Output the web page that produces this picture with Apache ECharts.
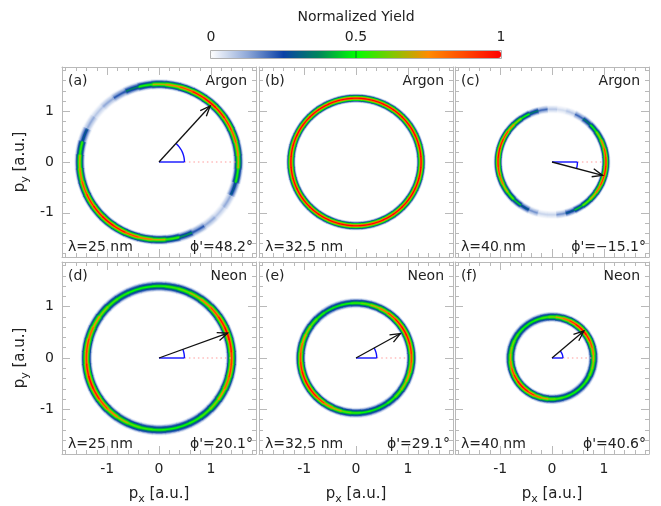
<!DOCTYPE html>
<html>
<head>
<meta charset="utf-8">
<script src="https://cdn.jsdelivr.net/npm/echarts@6/dist/echarts.min.js"></script>
<style>
  html, body { margin: 0; padding: 0; background: #fff; }
  #chart { width: 661px; height: 506px; }
</style>
</head>
<body>
<div id="chart"></div>
<script>
// angles around each ring (deg, counter-clockwise from +px)
const angles = [0, 10, 20, 30, 40, 50, 60, 70, 80, 90, 100, 110, 120, 130, 140, 150, 160, 170,
  180, 190, 200, 210, 220, 230, 240, 250, 260, 270, 280, 290, 300, 310, 320, 330, 340, 350]

// normalized yield on the ring centre line, one value per angle
const yieldA = [0.7, 0.78, 0.86, 0.92, 0.97, 1.0, 0.97, 0.88, 0.78, 0.68, 0.52, 0.36, 0.22, 0.12, 0.08, 0.12, 0.3, 0.55,
  0.72, 0.8, 0.88, 0.94, 0.98, 1.0, 0.96, 0.88, 0.8, 0.7, 0.55, 0.38, 0.22, 0.12, 0.08, 0.12, 0.3, 0.52]
const yieldB = [1, 1, 1, 1, 1, 1, 1, 1, 1, 1, 1, 1, 1, 1, 1, 1, 1, 1,
  1, 1, 1, 1, 1, 1, 1, 1, 1, 1, 1, 1, 1, 1, 1, 1, 1, 1]
const yieldC = [0.95, 0.9, 0.8, 0.65, 0.5, 0.35, 0.2, 0.08, 0.05, 0.08, 0.2, 0.35, 0.5, 0.65, 0.78, 0.9, 0.97, 1.0,
  0.97, 0.92, 0.83, 0.72, 0.6, 0.45, 0.3, 0.15, 0.06, 0.06, 0.15, 0.3, 0.45, 0.6, 0.72, 0.83, 0.92, 0.97]
const yieldD = [0.9, 0.96, 1.0, 0.96, 0.88, 0.78, 0.68, 0.6, 0.55, 0.52, 0.5, 0.5, 0.52, 0.56, 0.64, 0.74, 0.83, 0.9,
  0.9, 0.96, 1.0, 0.96, 0.88, 0.78, 0.68, 0.6, 0.55, 0.52, 0.5, 0.5, 0.52, 0.56, 0.64, 0.74, 0.83, 0.9]
const yieldE = [0.88, 0.94, 0.98, 1.0, 0.97, 0.9, 0.8, 0.7, 0.6, 0.54, 0.5, 0.48, 0.48, 0.52, 0.6, 0.68, 0.76, 0.83,
  0.88, 0.94, 0.98, 1.0, 0.97, 0.9, 0.8, 0.7, 0.6, 0.54, 0.5, 0.48, 0.48, 0.52, 0.6, 0.68, 0.76, 0.83]
const yieldF = [0.72, 0.8, 0.88, 0.95, 1.0, 0.98, 0.92, 0.82, 0.72, 0.62, 0.56, 0.52, 0.5, 0.5, 0.52, 0.56, 0.62, 0.67,
  0.72, 0.8, 0.88, 0.95, 1.0, 0.98, 0.92, 0.82, 0.72, 0.62, 0.56, 0.52, 0.5, 0.5, 0.52, 0.56, 0.62, 0.67]
const yields = [yieldA, yieldB, yieldC, yieldD, yieldE, yieldF]

// profile across the ring band: half width (fraction of ring width) and relative yield
const bandWidth = [1.0, 0.86, 0.73, 0.6, 0.48, 0.36, 0.24, 0.12]
const bandLevel = [0.05, 0.14, 0.28, 0.42, 0.52, 0.66, 0.82, 1.0]

const ringRadius = [1.53, 1.255, 1.04, 1.40, 1.07, 0.80]
const ringWidth = [0.1, 0.09, 0.085, 0.11, 0.1, 0.1]

// emission direction marker
const phiDeg = [48.2, null, -15.1, 20.1, 29.1, 40.6]
const arrowLen = [1.48, null, 1.01, 1.41, 0.98, 0.81]
const arcRadius = [0.49, null, 0.49, 0.49, 0.4, 0.21]

const tags = ['(a)', '(b)', '(c)', '(d)', '(e)', '(f)']
const gases = ['Argon', 'Argon', 'Argon', 'Neon', 'Neon', 'Neon']
const lambdas = ['λ=25 nm', 'λ=32.5 nm', 'λ=40 nm', 'λ=25 nm', 'λ=32.5 nm', 'λ=40 nm']
const phiLabels = ["ϕ'=48.2°", '', "ϕ'=−15.1°", "ϕ'=20.1°", "ϕ'=29.1°", "ϕ'=40.6°"]

const colorbarTicks = [0, 0.5, 1]
const yieldColors = ['#ffffff', '#90a9d8', '#0a40a6', '#00885a', '#00ff00', '#80c800', '#ff8a00', '#ff4800', '#ff0000']

const axisMin = -1.87
const axisMax = 1.87

const FONT = 'DejaVu Sans'
const frameColor = '#b9b9b9'
const colLeft = [62, 259, 455]
const rowTop = [67, 262]
const rowHeight = [190, 192]
const panelW = 194

const chart = echarts.init(document.getElementById('chart'))

const grids = []
const xAxes = []
const yAxes = []
const series = []
const graphics = []

function axisBase(p, show) {
  return {
    gridIndex: p,
    type: 'value',
    min: axisMin,
    max: axisMax,
    splitNumber: 4,
    axisLine: { show: true, onZero: false, lineStyle: { color: frameColor, width: 1 } },
    axisTick: { show: true, inside: true, length: 8, lineStyle: { color: frameColor, width: 1 } },
    minorTick: { show: true, splitNumber: 5, length: 4, lineStyle: { color: frameColor, width: 1 } },
    splitLine: { show: false },
    axisLabel: {
      show: show,
      color: '#222',
      fontSize: 14,
      fontFamily: FONT,
      margin: 8,
      formatter: v => (Math.abs(v - Math.round(v)) < 1e-6 ? String(Math.round(v)) : '')
    }
  }
}

const nameRich = {
  a: { fontSize: 15, fontFamily: FONT, color: '#222', lineHeight: 22, verticalAlign: 'middle' },
  b: { fontSize: 11, fontFamily: FONT, color: '#222', lineHeight: 12, verticalAlign: 'bottom' }
}

for (let p = 0; p < 6; p++) {
  const col = p % 3
  const row = Math.floor(p / 3)
  const left = colLeft[col]
  const top = rowTop[row]
  grids.push({ left: left, top: top, width: panelW, height: rowHeight[row], containLabel: false, outerBoundsMode: 'none' })

  const xb = axisBase(p, row === 1)
  xb.position = 'bottom'
  if (row === 1) {
    xb.name = '{a|p}{b|x}{a| [a.u.]}'
    xb.nameLocation = 'middle'
    xb.nameGap = 29
    xb.nameTextStyle = { rich: nameRich }
  }
  const xt = axisBase(p, false)
  xt.position = 'top'
  xAxes.push(xb, xt)

  const yl = axisBase(p, col === 0)
  yl.position = 'left'
  if (col === 0) {
    yl.name = '{a|p}{b|y}{a| [a.u.]}'
    yl.nameLocation = 'middle'
    yl.nameGap = 31
    yl.nameRotate = 90
    yl.nameTextStyle = { rich: nameRich }
  }
  const yr = axisBase(p, false)
  yr.position = 'right'
  yAxes.push(yl, yr)

  // ring cells, widest band first so narrower, brighter bands sit on top
  const data = []
  for (let k = 0; k < bandWidth.length; k++) {
    for (let i = 0; i < angles.length; i++) {
      data.push([angles[i], k, yields[p][i] * bandLevel[k]])
    }
  }
  series.push({
    type: 'custom',
    name: 'ring' + p,
    xAxisIndex: 2 * p,
    yAxisIndex: 2 * p,
    z: 2,
    silent: true,
    animation: false,
    data: data,
    renderItem: (params, api) => {
      const ang = api.value(0)
      const k = api.value(1)
      const r1 = ringRadius[p] + ringWidth[p] * bandWidth[k]
      const r0 = ringRadius[p] - ringWidth[p] * bandWidth[k]
      const a0 = ang - 5.4
      const a1 = ang + 5.4
      const pts = []
      const steps = 6
      for (let j = 0; j <= steps; j++) {
        const t = (a0 + (a1 - a0) * j / steps) * Math.PI / 180
        pts.push(api.coord([r1 * Math.cos(t), r1 * Math.sin(t)]))
      }
      for (let j = steps; j >= 0; j--) {
        const t = (a0 + (a1 - a0) * j / steps) * Math.PI / 180
        pts.push(api.coord([r0 * Math.cos(t), r0 * Math.sin(t)]))
      }
      return { type: 'polygon', shape: { points: pts }, style: { fill: api.visual('color') } }
    }
  })

  // panel texts
  const right = left + panelW
  const bottom = top + rowHeight[row]
  const txt = (x, y, s, align) => ({
    type: 'text', x: x, y: y, z: 20,
    style: { text: s, fill: '#222', font: '14px "' + FONT + '"', align: align, verticalAlign: 'middle' }
  })
  graphics.push(txt(left + 6, top + 14, tags[p], 'left'))
  graphics.push(txt(right - 9, top + 14, gases[p], 'right'))
  graphics.push(txt(left + 6, bottom - 10, lambdas[p], 'left'))
  if (phiLabels[p]) graphics.push(txt(right - 3, bottom - 10, phiLabels[p], 'right'))
}

// direction arrows
for (let p = 0; p < 6; p++) {
  if (phiDeg[p] === null) continue
  series.push({
    type: 'custom',
    name: 'arrow' + p,
    xAxisIndex: 2 * p,
    yAxisIndex: 2 * p,
    z: 5,
    silent: true,
    animation: false,
    data: [[phiDeg[p], arrowLen[p], arcRadius[p]]],
    renderItem: (params, api) => {
      const phi = api.value(0) * Math.PI / 180
      const len = api.value(1)
      const ar = api.value(2)
      const o = api.coord([0, 0])
      const tip = api.coord([len * Math.cos(phi), len * Math.sin(phi)])
      const arc = []
      for (let j = 0; j <= 24; j++) {
        const t = phi * j / 24
        arc.push(api.coord([ar * Math.cos(t), ar * Math.sin(t)]))
      }
      const dx = tip[0] - o[0]
      const dy = tip[1] - o[1]
      const d = Math.sqrt(dx * dx + dy * dy)
      const ux = dx / d
      const uy = dy / d
      const hl = 11
      const ha = 22 * Math.PI / 180
      const barb = s => {
        const c = Math.cos(s * ha)
        const sn = Math.sin(s * ha)
        const bx = ux * c - uy * sn
        const by = ux * sn + uy * c
        return [tip[0] - hl * bx, tip[1] - hl * by]
      }
      return {
        type: 'group',
        children: [
          { type: 'line', shape: { x1: api.coord([ar, 0])[0], y1: o[1], x2: api.coord([len, 0])[0], y2: o[1] },
            style: { stroke: '#ff9c9c', lineWidth: 1.2, lineDash: [1.5, 3] } },
          { type: 'line', shape: { x1: o[0], y1: o[1], x2: api.coord([ar, 0])[0], y2: o[1] },
            style: { stroke: '#1010ff', lineWidth: 1.4 } },
          { type: 'polyline', shape: { points: arc }, style: { stroke: '#1010ff', lineWidth: 1.4, fill: null } },
          { type: 'line', shape: { x1: o[0], y1: o[1], x2: tip[0], y2: tip[1] },
            style: { stroke: '#111', lineWidth: 1.3 } },
          { type: 'polyline', shape: { points: [barb(1), tip, barb(-1)] },
            style: { stroke: '#111', lineWidth: 1.3, fill: null } }
        ]
      }
    }
  })
}

// colour bar texts
const cbLeft = 211
const cbWidth = 290
graphics.push({
  type: 'text', x: cbLeft + cbWidth / 2, y: 17,
  style: { text: 'Normalized Yield', fill: '#222', font: '14px "' + FONT + '"', align: 'center', verticalAlign: 'middle' }
})
colorbarTicks.forEach(t => {
  graphics.push({
    type: 'text', x: cbLeft + cbWidth * t, y: 37,
    style: { text: String(t), fill: '#222', font: '14px "' + FONT + '"', align: 'center', verticalAlign: 'middle' }
  })
})
graphics.push({
  type: 'rect', z: 30, shape: { x: cbLeft - 0.5, y: 50.5, width: cbWidth + 1, height: 8 },
  style: { fill: null, stroke: '#b0b0b0', lineWidth: 1 }
})
graphics.push({
  type: 'line', z: 30, shape: { x1: cbLeft + cbWidth * 0.5, y1: 51, x2: cbLeft + cbWidth * 0.5, y2: 58 },
  style: { stroke: '#007a20', lineWidth: 1 }
})

chart.setOption({
  animation: false,
  backgroundColor: '#fff',
  grid: grids,
  xAxis: xAxes,
  yAxis: yAxes,
  visualMap: {
    type: 'continuous',
    min: 0,
    max: 1,
    dimension: 2,
    seriesIndex: [0, 1, 2, 3, 4, 5],
    orient: 'horizontal',
    left: cbLeft,
    top: 51,
    itemWidth: 7,
    itemHeight: cbWidth,
    padding: 0,
    calculable: false,
    hoverLink: false,
    text: null,
    inRange: { color: yieldColors }
  },
  series: series,
  graphic: graphics
})
</script>
</body>
</html>
